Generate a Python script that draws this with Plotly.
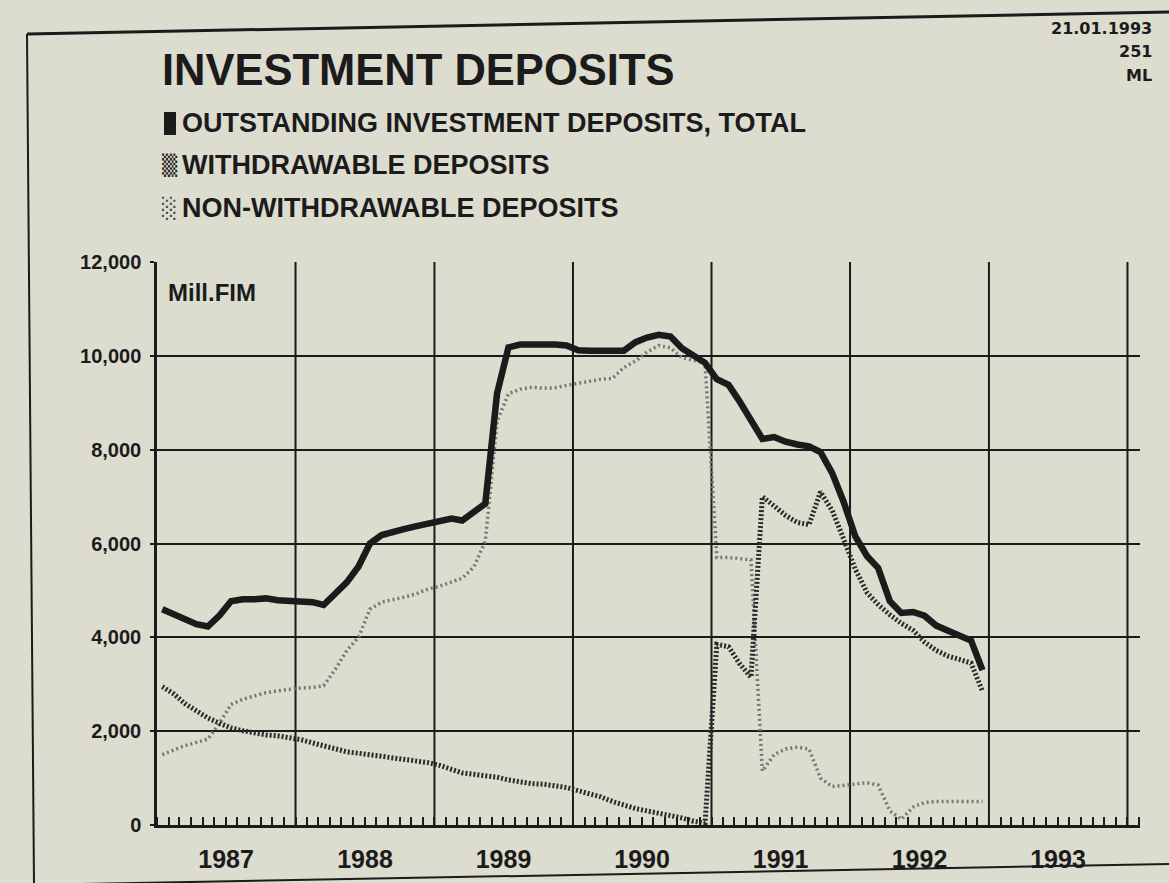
import pandas as pd
import plotly.graph_objects as go

# ---------------- data (Mill. FIM, monthly, Jan 1987 - Dec 1992) ----------------
months = pd.period_range("1987-01", "1992-12", freq="M").strftime("%Y-%m-15").tolist()

total = [4600, 4500, 4390, 4280, 4230, 4470, 4770, 4810, 4810, 4830, 4790, 4770,
         4770, 4750, 4690, 4920, 5170, 5510, 6000, 6180, 6260, 6310, 6370, 6430,
         6470, 6530, 6490, 6660, 6850, 9200, 10180, 10240, 10250, 10230, 10240, 10220,
         10120, 10110, 10100, 10100, 10110, 10290, 10390, 10450, 10410, 10160, 10020, 9850,
         9500, 9380, 9040, 8630, 8230, 8270, 8170, 8110, 8070, 7950, 7500, 6890,
         6150, 5730, 5480, 4770, 4520, 4540, 4460, 4250, 4130, 4040, 3930, 3300]

withdrawable = [2950, 2790, 2590, 2430, 2280, 2170, 2070, 2010, 1960, 1920, 1900, 1860,
                1820, 1750, 1690, 1620, 1560, 1530, 1500, 1470, 1420, 1390, 1370, 1330,
                1270, 1190, 1110, 1080, 1050, 1020, 960, 920, 880, 870, 830, 800,
                730, 660, 600, 500, 420, 350, 300, 240, 200, 150, 80, 40,
                3850, 3800, 3450, 3150, 7000, 6800, 6600, 6450, 6400, 7100, 6700, 6100,
                5450, 4950, 4700, 4480, 4300, 4150, 3900, 3720, 3600, 3530, 3450, 2850]

non_withdrawable = [1500, 1590, 1690, 1760, 1830, 2170, 2570, 2680, 2760, 2820, 2860, 2890,
                    2920, 2930, 2970, 3320, 3720, 4000, 4600, 4750, 4800, 4860, 4930, 5030,
                    5090, 5170, 5260, 5500, 6050, 8600, 9190, 9290, 9330, 9310, 9320, 9370,
                    9410, 9460, 9500, 9520, 9750, 9890, 10080, 10220, 10170, 9960, 9910, 9850,
                    5700, 5700, 5680, 5650, 1150, 1500, 1620, 1660, 1620, 1000, 820, 850,
                    870, 900, 850, 300, 120, 380, 480, 500, 500, 500, 500, 500]

years = ["1987", "1988", "1989", "1990", "1991", "1992", "1993"]
y_ticks = [0, 2000, 4000, 6000, 8000, 10000, 12000]

title_text = "INVESTMENT DEPOSITS"
legend_labels = ["OUTSTANDING INVESTMENT DEPOSITS, TOTAL",
                 "WITHDRAWABLE DEPOSITS",
                 "NON-WITHDRAWABLE DEPOSITS"]
corner_lines = ["21.01.1993", "251", "ML"]
unit_label = "Mill.FIM"

# ---------------- styling ----------------
W, H = 1169, 883
L, R, T, B = 157, 1140, 262, 825          # plot area in pixels
BG = "#dcdccf"
INK = "#1b1b1b"
FONT = "Liberation Sans, Arial, sans-serif"


def px(x):
    return (x - L) / (R - L)


def py(y):
    return (B - y) / (B - T)


fig = go.Figure()
fig.add_trace(go.Scatter(x=months, y=non_withdrawable, mode="lines",
                         line=dict(color="#767676", width=3.5, dash="2px,3px"),
                         name=legend_labels[2]))
fig.add_trace(go.Scatter(x=months, y=withdrawable, mode="lines",
                         line=dict(color="#2a2a2a", width=5, dash="2px,2px"),
                         name=legend_labels[1]))
fig.add_trace(go.Scatter(x=months, y=total, mode="lines",
                         line=dict(color=INK, width=6.5),
                         name=legend_labels[0]))

shapes = []
# vertical year grid lines
for yr in range(1988, 1995):
    shapes.append(dict(type="line", xref="x", yref="paper", x0=f"{yr}-01-01", x1=f"{yr}-01-01",
                       y0=0, y1=1, line=dict(color=INK, width=2), layer="below"))
# legend marker for total
shapes.append(dict(type="rect", xref="paper", yref="paper", x0=px(164), x1=px(176),
                   y0=py(135), y1=py(112), fillcolor=INK, line=dict(width=0)))
# page frame lines (scan)
shapes.append(dict(type="line", xref="paper", yref="paper", x0=px(27), y0=py(34),
                   x1=px(1169), y1=py(12), line=dict(color=INK, width=3)))
shapes.append(dict(type="line", xref="paper", yref="paper", x0=px(27), y0=py(34),
                   x1=px(34), y1=py(883), line=dict(color=INK, width=2)))
shapes.append(dict(type="line", xref="paper", yref="paper", x0=px(27), y0=py(885),
                   x1=px(1169), y1=py(864), line=dict(color=INK, width=2)))

annotations = []
annotations.append(dict(text=f"<b>{title_text}</b>", x=px(160), y=py(70), xref="paper", yref="paper",
                        xanchor="left", yanchor="middle", showarrow=False,
                        font=dict(family=FONT, size=43.5, color=INK)))
leg_y = [123, 165, 208]
for lab, yy in zip(legend_labels, leg_y):
    annotations.append(dict(text=f"<b>{lab}</b>", x=px(180), y=py(yy), xref="paper", yref="paper",
                            xanchor="left", yanchor="middle", showarrow=False,
                            font=dict(family=FONT, size=27, color=INK)))
annotations.append(dict(text="▒", x=px(160), y=py(165), xref="paper", yref="paper",
                        xanchor="left", yanchor="middle", showarrow=False,
                        font=dict(family="DejaVu Sans", size=20, color="#222")))
annotations.append(dict(text="░", x=px(160), y=py(208), xref="paper", yref="paper",
                        xanchor="left", yanchor="middle", showarrow=False,
                        font=dict(family="DejaVu Sans", size=20, color="#444")))
for txt, yy in zip(corner_lines, [28, 52, 75]):
    annotations.append(dict(text=f"<b>{txt}</b>", x=px(1154), y=py(yy), xref="paper", yref="paper",
                            xanchor="right", yanchor="middle", showarrow=False,
                            font=dict(family="DejaVu Sans", size=16, color=INK)))
annotations.append(dict(text=f"<b>{unit_label}</b>", x=px(166), y=py(292), xref="paper", yref="paper",
                        xanchor="left", yanchor="middle", showarrow=False,
                        font=dict(family=FONT, size=24, color=INK)))

fig.update_layout(
    width=W, height=H,
    margin=dict(l=L, r=W - R, t=T, b=H - B, pad=0),
    paper_bgcolor=BG, plot_bgcolor=BG,
    showlegend=False,
    shapes=shapes, annotations=annotations,
    xaxis=dict(type="date", range=["1987-01-01", "1994-02-03"], automargin=False,
               tickmode="array", tickvals=[f"{y}-07-02" for y in years], ticktext=years,
               ticks="", showgrid=False, zeroline=False,
               showline=True, linecolor=INK, linewidth=2.5,
               tickfont=dict(family=FONT, size=25, color=INK, weight="bold"),
               ticklabelstandoff=10,
               minor=dict(dtick="M1", tick0="1987-01-01", ticks="inside", ticklen=8,
                          tickwidth=1.5, tickcolor=INK, showgrid=False)),
    yaxis=dict(range=[0, 12000], tickmode="array", tickvals=y_ticks, automargin=False,
               ticktext=[f"{v:,}" for v in y_ticks],
               ticks="outside", ticklen=4, tickcolor=INK, tickwidth=2,
               showgrid=True, gridcolor=INK, gridwidth=2, zeroline=False,
               showline=True, linecolor=INK, linewidth=2.5,
               tickfont=dict(family=FONT, size=20, color=INK, weight="bold"),
               ticklabelstandoff=5),
)

fig.write_html("out.html", config={"displayModeBar": False},
               post_script="document.body.style.margin='0';document.body.style.background='" + BG + "';")
